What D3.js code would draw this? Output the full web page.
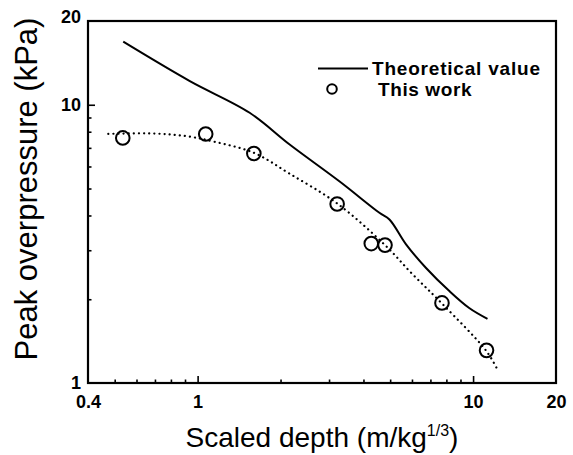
<!DOCTYPE html>
<html>
<head>
<meta charset="utf-8">
<script src="https://cdn.jsdelivr.net/npm/d3@7"></script>
<style>
  html, body { margin: 0; padding: 0; background: #fff; }
  svg { display: block; }
  text { font-family: "Liberation Sans", Arial, Helvetica, sans-serif; fill: #000; }
</style>
</head>
<body>
<svg id="chart" width="573" height="455"></svg>
<script>
// ---- data ----
const theoryX = [0.537, 0.937, 1.545, 2.158, 3.27, 4.57, 4.97, 5.71, 6.75, 8.20, 9.68, 11.28];
const theoryY = [16.85, 12.16, 9.36, 7.20, 5.31, 4.09, 3.87, 3.15, 2.59, 2.14, 1.86, 1.70];

const workX = [0.535, 1.07, 1.60, 3.21, 4.27, 4.79, 7.71, 11.19];
const workY = [7.60, 7.85, 6.68, 4.40, 3.17, 3.13, 1.94, 1.31];

const fitX = [0.474, 0.70, 0.92, 1.14, 1.60, 2.16, 3.21, 4.79, 6.03, 7.71, 11.19, 12.36];
const fitY = [7.86, 7.88, 7.70, 7.38, 6.72, 5.65, 4.42, 3.13, 2.46, 1.93, 1.30, 1.10];

const xLabelTicks = [0.4, 1, 10, 20];
const xMajorTicks = [1, 10];
const xMinorTicks = [0.5, 0.6, 0.7, 0.8, 0.9, 2, 3, 4, 5, 6, 7, 8, 9];
const yLabelTicks = [1, 10, 20];
const yMajorTicks = [10];
const yMinorTicks = [2, 3, 4, 5, 6, 7, 8, 9];

const legendLabels = ["Theoretical value", "This work"];
const xTitle = "Scaled depth (m/kg";
const xTitleSup = "1/3";
const yTitle = "Peak overpressure (kPa)";

// ---- layout ----
const svg = d3.select("#chart");
const L = 88, R = 556, T = 21, B = 383;
const x = d3.scaleLog().domain([0.4, 20]).range([L, R]);
const y = d3.scaleLog().domain([1, 20]).range([B, T]);

const fmt = d => String(d);

function plainAxis(g) { g.select(".domain").remove(); g.selectAll("line").attr("stroke", "#000").attr("stroke-width", 1.6); }

// bottom axis: ticks inward
svg.append("g").attr("transform", `translate(0,${B})`)
  .call(d3.axisBottom(x).tickValues(xMinorTicks).tickSize(-3.5).tickFormat(""))
  .call(plainAxis);
svg.append("g").attr("transform", `translate(0,${B})`)
  .call(d3.axisBottom(x).tickValues(xMajorTicks).tickSize(-7).tickFormat(""))
  .call(plainAxis);
const xl = svg.append("g").attr("transform", `translate(0,${B})`)
  .call(d3.axisBottom(x).tickValues(xLabelTicks).tickSize(0).tickPadding(12).tickFormat(fmt));
xl.select(".domain").remove();
xl.selectAll("text").attr("font-size", 18).attr("font-weight", "bold").attr("fill", "#000")
  .style("font-family", '"Liberation Sans", Arial, sans-serif');

// left axis
svg.append("g").attr("transform", `translate(${L},0)`)
  .call(d3.axisLeft(y).tickValues(yMinorTicks).tickSize(-3.5).tickFormat(""))
  .call(plainAxis);
svg.append("g").attr("transform", `translate(${L},0)`)
  .call(d3.axisLeft(y).tickValues(yMajorTicks).tickSize(-7).tickFormat(""))
  .call(plainAxis);
const yl = svg.append("g").attr("transform", `translate(${L},0)`)
  .call(d3.axisLeft(y).tickValues(yLabelTicks).tickSize(0).tickPadding(7).tickFormat(fmt));
yl.select(".domain").remove();
yl.selectAll("text").attr("font-size", 18).attr("font-weight", "bold").attr("fill", "#000")
  .style("font-family", '"Liberation Sans", Arial, sans-serif');
yl.selectAll(".tick").filter(d => d === 20).select("text").attr("dy", "0.1em");

// frame
svg.append("rect").attr("x", L).attr("y", T).attr("width", R - L).attr("height", B - T)
  .attr("fill", "none").attr("stroke", "#000").attr("stroke-width", 2.2);

// theoretical line
const theory = theoryX.map((d, i) => [d, theoryY[i]]);
const line = d3.line().x(d => x(d[0])).y(d => y(d[1])).curve(d3.curveCatmullRom.alpha(0.5));
svg.append("path").datum(theory).attr("d", line)
  .attr("fill", "none").attr("stroke", "#000").attr("stroke-width", 2);

// dotted fit
const fit = fitX.map((d, i) => [d, fitY[i]]);
svg.append("path").datum(fit).attr("d", line)
  .attr("fill", "none").attr("stroke", "#000").attr("stroke-width", 2.2)
  .attr("stroke-dasharray", "0.1,5").attr("stroke-linecap", "round");

// circles
const work = workX.map((d, i) => [d, workY[i]]);
svg.append("g").selectAll("circle").data(work).join("circle")
  .attr("cx", d => x(d[0])).attr("cy", d => y(d[1])).attr("r", 6.8)
  .attr("fill", "none").attr("stroke", "#000").attr("stroke-width", 2);

// legend
const lg = svg.append("g");
lg.append("line").attr("x1", 318).attr("x2", 368).attr("y1", 68.5).attr("y2", 68.5)
  .attr("stroke", "#000").attr("stroke-width", 2);
lg.append("text").attr("x", 372).attr("y", 75).attr("font-size", 19).attr("font-weight", "bold")
  .attr("letter-spacing", 0.8).text(legendLabels[0]);
lg.append("circle").attr("cx", 332).attr("cy", 89).attr("r", 4.8)
  .attr("fill", "none").attr("stroke", "#000").attr("stroke-width", 2);
lg.append("text").attr("x", 378).attr("y", 96).attr("font-size", 19).attr("font-weight", "bold")
  .attr("letter-spacing", 0.6).text(legendLabels[1]);

// axis titles
const xt = svg.append("text").attr("x", 322).attr("y", 447).attr("text-anchor", "middle")
  .attr("font-size", 28);
xt.append("tspan").text(xTitle);
xt.append("tspan").attr("font-size", 16).attr("dy", -11).text(xTitleSup);
xt.append("tspan").attr("dy", 11).text(")");

svg.append("text").attr("transform", "translate(37,189) rotate(-90)")
  .attr("text-anchor", "middle").attr("font-size", 31).text(yTitle);
</script>
</body>
</html>
